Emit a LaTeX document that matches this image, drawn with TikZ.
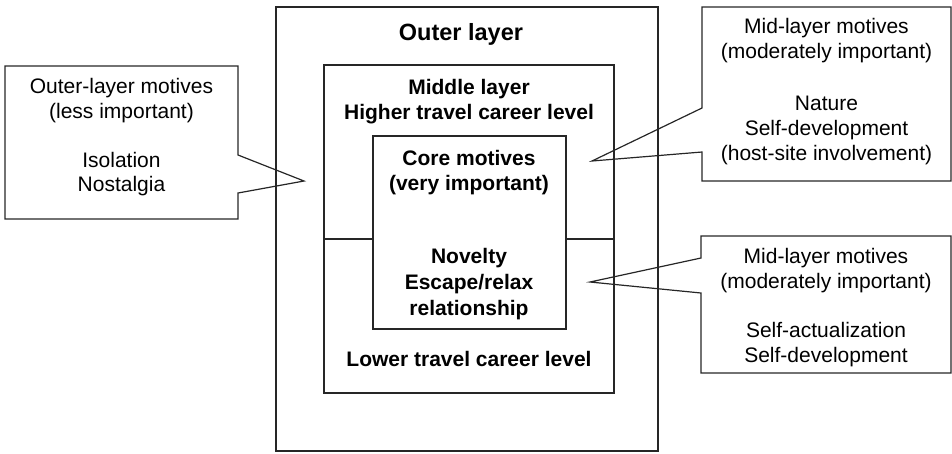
\documentclass[tikz,border=0pt]{standalone}
\usepackage{fontspec}
\setmainfont{Liberation Sans}
\begin{document}
\begin{tikzpicture}[x=1pt,y=-1pt,
  frame/.style={draw=black!85,line width=1.2pt},
  bl/.style={anchor=base,inner sep=0pt,font=\fontsize{21}{25}\selectfont\bfseries},
  big/.style={anchor=base,inner sep=0pt,font=\fontsize{23.5}{28}\selectfont\bfseries},
  rl/.style={anchor=base,inner sep=0pt,font=\fontsize{21}{25}\selectfont}]
\useasboundingbox (0,0) rectangle (952,453);
% layers
\draw[frame] (276,7) rectangle (658,451);
\draw[frame] (324,65) rectangle (614,393);
\draw[frame] (373,136) rectangle (566,329);
\coordinate (ml) at (324,239);
\coordinate (cl) at (373,239);
\coordinate (cr) at (566,239);
\coordinate (mr) at (614,239);
\draw[frame] (ml) -- (cl);
\draw[frame] (cr) -- (mr);
% layer texts
\node[big] (outer) at (461,40) {Outer layer};
\node[bl] (mid1) at (469,94) {Middle layer};
\node[bl] (mid2) at (469,119) {Higher travel career level};
\node[bl] (core1) at (469,165) {Core motives};
\node[bl] (core2) at (469,190) {(very important)};
\node[bl] (nov1) at (469,263) {Novelty};
\node[bl] (nov2) at (469,289) {Escape/relax};
\node[bl] (nov3) at (469,315) {relationship};
\node[bl] (low) at (469,366) {Lower travel career level};
% left callout
\coordinate (ltip) at (304,181);
\draw[frame,line join=miter] (5,66) -- (238,66) -- (238,155) -- (ltip) -- (238,193) -- (238,219) -- (5,219) -- cycle;
\node[rl] (l1) at (121.5,93) {Outer-layer motives};
\node[rl] (l2) at (121.5,118) {(less important)};
\node[rl] (l3) at (121.5,167) {Isolation};
\node[rl] (l4) at (121.5,191) {Nostalgia};
% top-right callout
\coordinate (ttip) at (592,161);
\draw[frame,line join=miter] (702,7) -- (951,7) -- (951,181) -- (702,181) -- (702,152) -- (ttip) -- (702,108) -- cycle;
\node[rl] (t1) at (826.5,33) {Mid-layer motives};
\node[rl] (t2) at (826.5,58) {(moderately important)};
\node[rl] (t3) at (826.5,110) {Nature};
\node[rl] (t4) at (826.5,135) {Self-development};
\node[rl] (t5) at (826.5,160) {(host-site involvement)};
% bottom-right callout
\coordinate (btip) at (590,282);
\draw[frame,line join=miter] (701,236) -- (951,236) -- (951,373) -- (701,373) -- (701,293) -- (btip) -- (701,258) -- cycle;
\node[rl] (b1) at (826,263) {Mid-layer motives};
\node[rl] (b2) at (826,288) {(moderately important)};
\node[rl] (b3) at (826,337) {Self-actualization};
\node[rl] (b4) at (826,362) {Self-development};
\end{tikzpicture}
\end{document}
